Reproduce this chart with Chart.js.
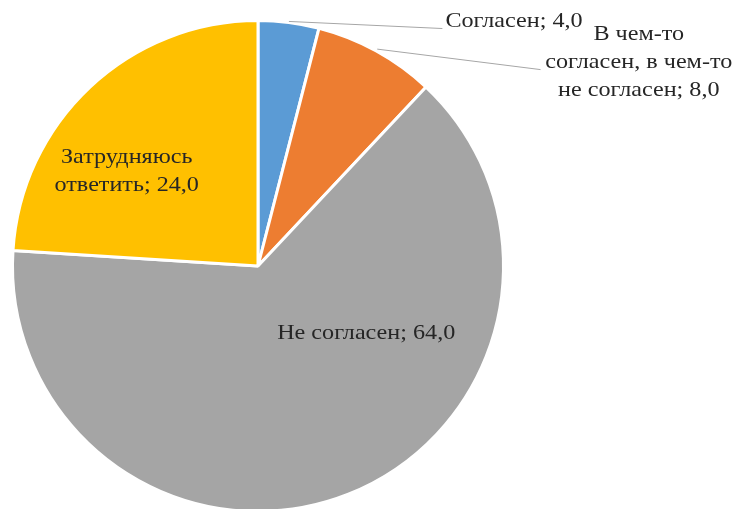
<!DOCTYPE html>
<html>
<head>
<meta charset="utf-8">
<script src="https://cdn.jsdelivr.net/npm/chart.js@4.4.0/dist/chart.umd.min.js"></script>
<style>
  html, body { margin: 0; padding: 0; background: #fff; overflow: hidden; }
  canvas { display: block; }
</style>
</head>
<body>
<canvas id="pieChart" width="735" height="520"></canvas>
<script>
var categories = ['Согласен', 'В чем-то согласен, в чем-то не согласен', 'Не согласен', 'Затрудняюсь ответить'];
var values = [4.0, 8.0, 64.0, 24.0];
var sliceColors = ['#5B9BD5', '#ED7D31', '#A5A5A5', '#FFC000'];

function fmt(v) {
    return v.toFixed(1).replace('.', ',');
}

// label text lines and placement relative to pie centre (in px at r=245)
var labelLayout = [
    { lines: [categories[0] + '; ' + fmt(values[0])], dx: 187, dy: -244, align: 'left',
      leader: { r: 246, end: [184, -237] } },
    { lines: ['В чем-то', 'согласен, в чем-то', 'не согласен; ' + fmt(values[1])], dx: 380, dy: -231, align: 'center',
      leader: { r: 247, end: [282, -196] } },
    { lines: [categories[2] + '; ' + fmt(values[2])], dx: 108, dy: 67, align: 'center' },
    { lines: ['Затрудняюсь', 'ответить; ' + fmt(values[3])], dx: -131, dy: -108, align: 'center' }
];

var labelPlugin = {
    id: 'pieLabels',
    afterDatasetsDraw: function (chart) {
        var ctx = chart.ctx;
        var arcs = chart.getDatasetMeta(0).data;
        var cx = arcs[0].x, cy = arcs[0].y, r = arcs[0].outerRadius;
        var k = r / 245;
        ctx.save();
        ctx.font = '21px "Liberation Serif", "Times New Roman", serif';
        ctx.fillStyle = '#262626';
        ctx.textBaseline = 'middle';
        labelLayout.forEach(function (lab, i) {
            var arc = arcs[i];
            if (lab.leader) {
                var mid = (arc.startAngle + arc.endAngle) / 2;
                ctx.strokeStyle = '#A6A6A6';
                ctx.lineWidth = 1;
                ctx.beginPath();
                ctx.moveTo(cx + Math.cos(mid) * lab.leader.r * k, cy + Math.sin(mid) * lab.leader.r * k);
                ctx.lineTo(cx + lab.leader.end[0] * k, cy + lab.leader.end[1] * k);
                ctx.stroke();
            }
            ctx.textAlign = lab.align;
            lab.lines.forEach(function (line, j) {
                ctx.save();
                ctx.translate(cx + lab.dx * k, cy + (lab.dy + j * 28) * k);
                ctx.scale(1.15, 1); // the original text is stretched sideways
                ctx.fillText(line, 0, 0);
                ctx.restore();
            });
        });
        ctx.restore();
    }
};

var chart = new Chart(document.getElementById('pieChart').getContext('2d'), {
    type: 'pie',
    data: {
        labels: categories,
        datasets: [{
            data: values,
            backgroundColor: sliceColors,
            borderColor: '#FFFFFF',
            borderWidth: 3
        }]
    },
    options: {
        responsive: false,
        animation: false,
        layout: { padding: { left: 11, right: 230, top: 19, bottom: 7 } },
        plugins: {
            legend: { display: false },
            tooltip: { enabled: false }
        }
    },
    plugins: [labelPlugin]
});
</script>
</body>
</html>
